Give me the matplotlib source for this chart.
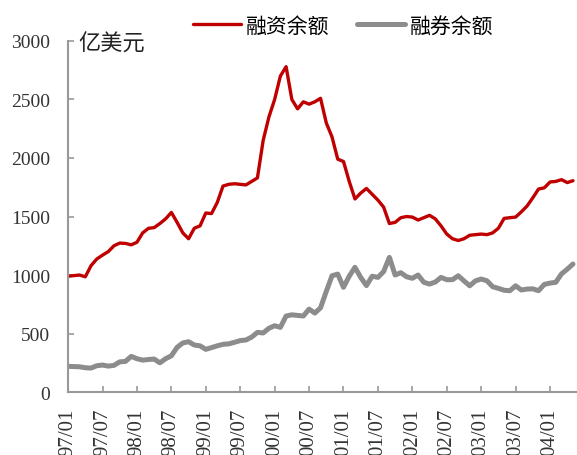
import numpy as np
import matplotlib
matplotlib.use("Agg")
import matplotlib.pyplot as plt

plt.rcParams['font.family'] = ['Liberation Serif', 'Noto Sans CJK SC']

# monthly data, 1997/01 - 2004/05 (100 million USD)
margin_debt = [
    990, 995, 1000, 985, 1080, 1137, 1170, 1200, 1250, 1273,
    1270, 1258, 1280, 1360, 1399, 1405, 1440, 1480, 1535, 1450,
    1360, 1310, 1400, 1420, 1530, 1525, 1620, 1760, 1775, 1780,
    1775, 1770, 1800, 1830, 2150, 2350, 2500, 2700, 2780, 2500,
    2420, 2480, 2460, 2480, 2510, 2300, 2180, 1990, 1970, 1800,
    1650, 1700, 1740, 1690, 1640, 1580, 1440, 1450, 1490, 1500,
    1495, 1470, 1490, 1510, 1480, 1420, 1350, 1310, 1295, 1310,
    1340, 1345, 1350, 1345, 1360, 1400, 1484, 1490, 1495, 1540,
    1590, 1660, 1735, 1745, 1795, 1800, 1815, 1790, 1806,
]
short_balance = [
    220, 218, 216, 208, 205, 225, 231, 222, 228, 258,
    262, 305, 285, 273, 278, 282, 250, 285, 310, 382,
    420, 430, 402, 395, 365, 380, 395, 408, 412, 425,
    440, 445, 470, 510, 505, 545, 567, 553, 650, 660,
    655, 650, 709, 675, 720, 860, 994, 1008, 895, 990,
    1066, 980, 910, 990, 980, 1030, 1151, 1000, 1020, 985,
    972, 1000, 938, 923, 940, 980, 960, 960, 994, 950,
    908, 950, 966, 951, 900, 886, 870, 866, 908, 872,
    880, 882, 866, 920, 931, 938, 1010, 1050, 1094,
]
tick_labels = ["97/01", "97/07", "98/01", "98/07", "99/01", "99/07", "00/01", "00/07",
               "01/01", "01/07", "02/01", "02/07", "03/01", "03/07", "04/01"]

months = np.arange(len(margin_debt))

fig = plt.figure(figsize=(5.77, 4.56), dpi=100)
ax = fig.add_axes([0.118, 0.138, 0.882, 0.770])

ax.plot(months, margin_debt, color='#C00000', lw=2.4, label='融资余额',
        solid_joinstyle='round', solid_capstyle='round')
ax.plot(months, short_balance, color='#8C8C8C', lw=3.6, label='融券余额',
        solid_joinstyle='round', solid_capstyle='round')

ax.set_xlim(0, 88.7)
ax.set_ylim(0, 3000)
ax.set_yticks(np.arange(0, 3001, 500))
ax.set_xticks(np.arange(0, 85, 6))
ax.set_xticklabels(tick_labels, rotation=90)

for s in ['top', 'right']:
    ax.spines[s].set_visible(False)
for s in ['left', 'bottom']:
    ax.spines[s].set_color('#999999')
    ax.spines[s].set_linewidth(1.5)
ax.tick_params(axis='both', direction='in', length=4, width=1.2, color='#999999',
               labelcolor='#333333')
ax.tick_params(axis='y', pad=13, labelsize=14)
ax.tick_params(axis='x', pad=11, labelsize=15)

ax.text(0.02, 0.995, '亿美元', transform=ax.transAxes, fontsize=16,
        family=['Noto Sans CJK SC'], va='center', ha='left', color='#222222')

fig.legend(loc='center', bbox_to_anchor=(0.595, 0.942), ncol=2, frameon=False,
           handlelength=2.3, handletextpad=0.25, columnspacing=1.3,
           prop={'family': ['Noto Sans CJK SC'], 'size': 15})

fig.savefig('out.png', dpi=100)
